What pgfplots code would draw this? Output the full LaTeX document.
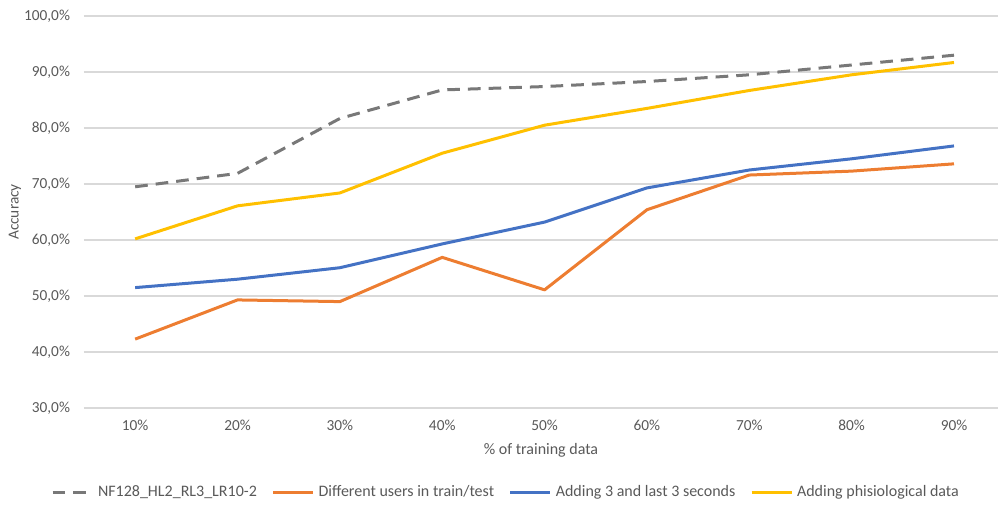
\documentclass[border=0pt]{standalone}
\usepackage{pgfplots}
\pgfplotsset{compat=1.18}
\usepackage{fontspec}
\setmainfont{Carlito}
\definecolor{txt}{RGB}{89,89,89}
\definecolor{gridc}{RGB}{217,217,217}
\definecolor{sgray}{RGB}{120,120,120}
\definecolor{sorange}{RGB}{237,125,49}
\definecolor{sblue}{RGB}{68,114,196}
\definecolor{syellow}{RGB}{255,192,0}
\begin{document}
\begin{tikzpicture}
\begin{axis}[
  at={(0,0)}, anchor=south west,
  scale only axis, width=685.5pt, height=294pt,
  xmin=0.5, xmax=9.43, ymin=30, ymax=100,
  axis line style={draw=none},
  tick style={draw=none},
  ymajorgrids, grid style={color=gridc, line width=0.8pt},
  ytick={30,40,...,100},
  yticklabel={\pgfmathprintnumber[fixed,fixed zerofill,precision=1,use comma]{\tick}\%},
  xtick={1,...,9},
  xticklabels={10\%,20\%,30\%,40\%,50\%,60\%,70\%,80\%,90\%},
  /pgf/number format/assume math mode=true,
  font=\fontsize{11.5}{13.8}\selectfont,
  every tick label/.append style={text=txt, font=\fontsize{11.5}{13.8}\selectfont},
  xticklabel style={yshift=-5.5pt},
  yticklabel style={xshift=-7pt},
  xlabel={\% of training data},
  ylabel={Accuracy},
  xlabel style={at={(axis description cs:0.5,-0.107)}, anchor=center, text=txt, font=\fontsize{12}{14.4}\selectfont},
  ylabel style={at={(axis description cs:-0.0755,0.5)}, anchor=center, text=txt, font=\fontsize{11.5}{13.8}\selectfont},
  legend columns=4,
  legend style={at={(axis description cs:0.462,-0.2143)}, anchor=center, draw=none, fill=none,
    font=\fontsize{12}{14.4}\selectfont, text=txt,
    /tikz/every even column/.append style={column sep=9pt},
    /tikz/every odd column/.append style={column sep=1pt}},
  legend image code/.code={\draw[#1] (0pt,0pt) -- (30pt,0pt);},
  every axis plot/.append style={line width=2.25pt, line join=round},
]
\addplot[color=sgray, dash pattern=on 9.5pt off 6pt] coordinates {
(1,69.5) (2,71.9) (3,81.7) (4,86.8) (5,87.4) (6,88.3) (7,89.5) (8,91.25) (9,93.0)};
\addlegendentry{NF128\_HL2\_RL3\_LR10-2}
\addplot[color=sorange] coordinates {
(1,42.3) (2,49.3) (3,49.0) (4,56.9) (5,51.1) (6,65.4) (7,71.6) (8,72.3) (9,73.6)};
\addlegendentry{Different users in train/test}
\addplot[color=sblue] coordinates {
(1,51.5) (2,53.0) (3,55.05) (4,59.3) (5,63.2) (6,69.3) (7,72.5) (8,74.5) (9,76.8)};
\addlegendentry{Adding 3 and last 3 seconds}
\addplot[color=syellow] coordinates {
(1,60.2) (2,66.1) (3,68.4) (4,75.5) (5,80.5) (6,83.5) (7,86.7) (8,89.5) (9,91.7)};
\addlegendentry{Adding phisiological data}
\end{axis}
\pgfresetboundingbox
\useasboundingbox (-63pt,-72pt) rectangle (685.5pt,306pt);
\end{tikzpicture}
\end{document}
